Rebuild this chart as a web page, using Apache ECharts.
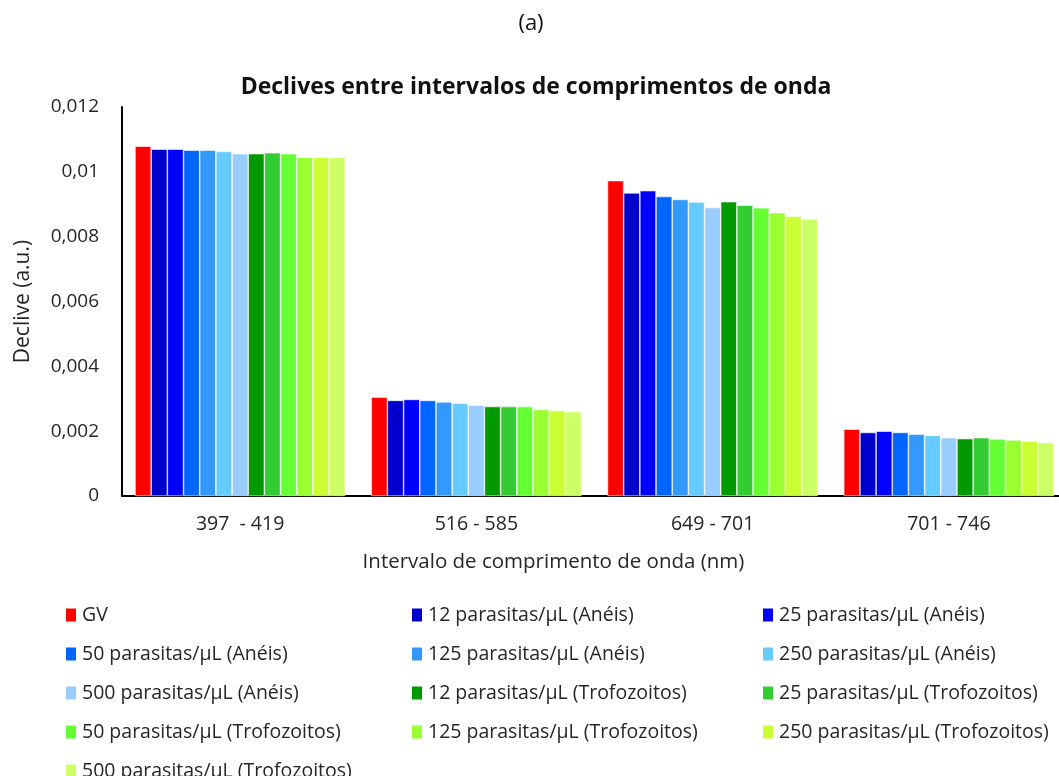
<!DOCTYPE html>
<html>
<head>
<meta charset="utf-8">
<script src="https://cdn.jsdelivr.net/npm/echarts@6/dist/echarts.min.js"></script>
<style>
html,body{margin:0;padding:0;background:#fff;overflow:hidden;width:1059px;height:776px;}
#chart{width:1075px;height:786px;}
</style>
</head>
<body>
<div id="chart"></div>
<script>
const categories = ['397  - 419', '516 - 585', '649 - 701', '701 - 746'];
const seriesNames = [
  'GV',
  '12 parasitas/µL (Anéis)',
  '25 parasitas/µL (Anéis)',
  '50 parasitas/µL (Anéis)',
  '125 parasitas/µL (Anéis)',
  '250 parasitas/µL (Anéis)',
  '500 parasitas/µL (Anéis)',
  '12 parasitas/µL (Trofozoitos)',
  '25 parasitas/µL (Trofozoitos)',
  '50 parasitas/µL (Trofozoitos)',
  '125 parasitas/µL (Trofozoitos)',
  '250 parasitas/µL (Trofozoitos)',
  '500 parasitas/µL (Trofozoitos)'
];
const seriesColors = ['#FF0000','#0000CC','#0000FF','#0066FF','#3399FF','#66CCFF','#99CCFF','#009900','#33CC33','#66FF33','#99FF33','#CCFF33','#CCFF66'];
const gv        = [0.01079, 0.00305, 0.00973, 0.00206];
const a12       = [0.01070, 0.00295, 0.00935, 0.00196];
const a25       = [0.01070, 0.00298, 0.00942, 0.00200];
const a50       = [0.01067, 0.00295, 0.00924, 0.00196];
const a125      = [0.01067, 0.00290, 0.00915, 0.00191];
const a250      = [0.01063, 0.00286, 0.00907, 0.00187];
const a500      = [0.01056, 0.00280, 0.00890, 0.00180];
const t12       = [0.01056, 0.00276, 0.00908, 0.00177];
const t25       = [0.01059, 0.00276, 0.00897, 0.00180];
const t50       = [0.01056, 0.00276, 0.00889, 0.00176];
const t125      = [0.01045, 0.00267, 0.00874, 0.00173];
const t250      = [0.01045, 0.00264, 0.00863, 0.00169];
const t500      = [0.01045, 0.00260, 0.00855, 0.00165];
const seriesValues = [gv, a12, a25, a50, a125, a250, a500, t12, t25, t50, t125, t250, t500];
const yTickLabels = ['0', '0,002', '0,004', '0,006', '0,008', '0,01', '0,012'];

const FONT = 'Open Sans';
const TXT = '#262626';
const chart = echarts.init(document.getElementById('chart'), null, {renderer:'canvas'});

const legendCols = [[0,3,6,9,12],[1,4,7,10],[2,5,8,11]];
const legendLeft = [59, 405, 756];
const legends = legendCols.map((idx, c) => ({
  orient: 'vertical',
  left: legendLeft[c],
  top: 600,
  height: 200,
  itemWidth: 12,
  itemHeight: 15,
  itemGap: 19,
  icon: 'rect',
  data: idx.map(i => seriesNames[i]),
  textStyle: {fontFamily: FONT, fontSize: 19.5, color: TXT, lineHeight: 20},
  selectedMode: false
}));

const option = {
  animation: false,
  backgroundColor: '#fff',
  title: [
    {text: '(a)', left: 526, textAlign: 'center', top: 8, textStyle: {fontFamily: FONT, fontSize: 22, fontWeight: 'normal', color: '#111'}},
    {text: 'Declives entre intervalos de comprimentos de onda', left: 531, textAlign: 'center', top: 71,
     textStyle: {fontFamily: FONT, fontSize: 23, fontWeight: 'bold', color: '#111'}}
  ],
  legend: legends,
  grid: {left: 122, top: 107, width: 945, height: 389, containLabel: false},
  xAxis: {
    type: 'category',
    data: categories,
    name: 'Intervalo de comprimento de onda (nm)',
    nameLocation: 'middle',
    nameGap: 56,
    nameTextStyle: {fontFamily: FONT, fontSize: 20.5, color: TXT, padding: [0, 82, 0, 0]},
    axisLine: {lineStyle: {color: '#000', width: 2}},
    axisTick: {show: false},
    axisLabel: {fontFamily: FONT, fontSize: 19.5, color: TXT, margin: 18}
  },
  yAxis: {
    type: 'value',
    min: 0, max: 0.012, interval: 0.002,
    name: 'Declive (a.u.)',
    nameLocation: 'middle',
    nameGap: 88,
    nameRotate: 90,
    nameTextStyle: {fontFamily: FONT, fontSize: 21, color: TXT},
    axisLine: {show: true, lineStyle: {color: '#000', width: 2}},
    axisTick: {show: false},
    splitLine: {show: false},
    axisLabel: {
      fontFamily: FONT, fontSize: 19, color: TXT, margin: 23,
      formatter: (v) => yTickLabels[Math.round(v / 0.002)]
    }
  },
  series: seriesNames.map((n, i) => ({
    name: n,
    type: 'bar',
    data: seriesValues[i],
    barGap: '0%',
    barCategoryGap: '11%',
    itemStyle: {color: seriesColors[i], borderColor: '#fff', borderWidth: 0.6}
  }))
};
chart.setOption(option);
</script>
</body>
</html>
